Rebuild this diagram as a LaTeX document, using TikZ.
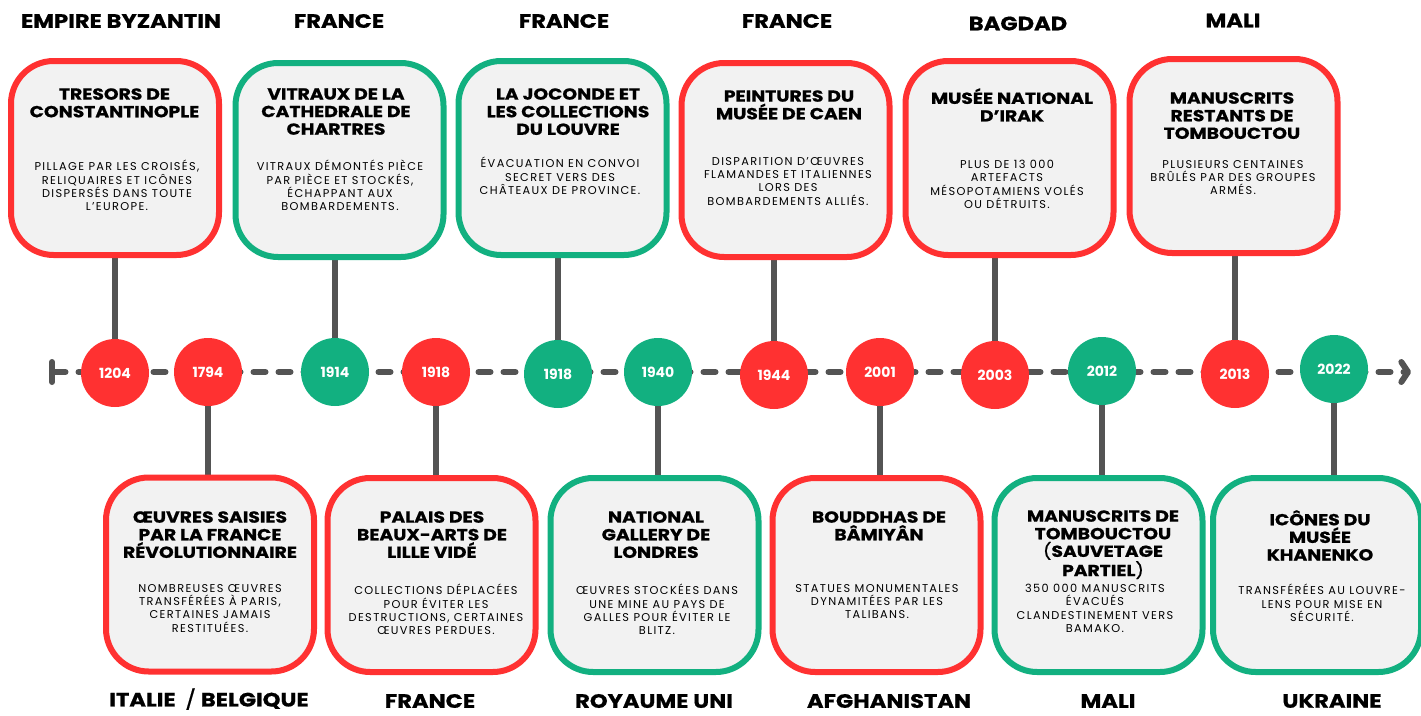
\documentclass[tikz,border=0pt]{standalone}
\usepackage{fontspec}
\setmainfont{Poppins}
\newfontfamily\descfont[LetterSpace=12]{Poppins}
\newfontfamily\headfont[FakeStretch=1.17,FakeBold=0.8]{Poppins}
\usepackage{tikz}
\usetikzlibrary{arrows.meta,positioning,backgrounds}

\definecolor{tlred}{RGB}{255,49,49}
\definecolor{tlgreen}{RGB}{18,176,128}
\definecolor{tlgray}{RGB}{84,84,84}
\definecolor{tlfill}{RGB}{242,242,242}

\begin{document}
\begin{tikzpicture}[x=0.75pt,y=0.75pt,yscale=-1,xscale=1,
  card/.style={rectangle, rounded corners=32pt, minimum width=156pt, minimum height=145.5pt, line width=4.5pt, fill=tlfill, inner sep=0pt},
  redcard/.style={card, draw=tlred},
  greencard/.style={card, draw=tlgreen},
  ttl/.style={anchor=north, align=center, inner sep=0pt, font=\headfont\bfseries\fontsize{12}{13.2}\selectfont},
  dsc/.style={anchor=north, align=center, inner sep=0pt, font=\descfont\fontsize{8.5}{10}\selectfont},
  place/.style={inner sep=0pt, font=\headfont\bfseries\fontsize{14.5}{15}\selectfont},
  year/.style={circle, minimum size=51pt, inner sep=0pt, text=white, font=\bfseries\fontsize{10.5}{10.5}\selectfont},
  redyear/.style={year, fill=tlred},
  greenyear/.style={year, fill=tlgreen},
  stem/.style={draw=tlgray, line width=4.5pt}
]
        \path [use as bounding box] (0,0) rectangle (1421,715);

        %Straight Lines: timeline
        \coordinate (tlstart) at (49,372);
        \coordinate (tlend) at (1411,372);
        \draw [tlgray, line width=4.5pt, line cap=round, dash pattern=on 9pt off 9.75pt, {Bar[width=15pt,round]}-{Straight Barb[length=5pt,width=15pt,round]}] (tlstart) -- (tlend) ;

        %Shape: Circle (years)
        \node [redyear] (yr1) at (115,373) {1204};
        \node [redyear] (yr2) at (208,372) {1794};
        \node [greenyear] (yr3) at (335,372) {1914};
        \node [redyear] (yr4) at (436,372) {1918};
        \node [greenyear] (yr5) at (558,374) {1918};
        \node [greenyear] (yr6) at (658,372) {1940};
        \node [redyear] (yr7) at (774,375) {1944};
        \node [redyear] (yr8) at (880,372) {2001};
        \node [redyear] (yr9) at (995,375) {2003};
        \node [greenyear] (yr10) at (1102,371) {2012};
        \node [redyear] (yr11) at (1235,374) {2013};
        \node [greenyear] (yr12) at (1334,369) {2022};

        %Shape: Rounded Rect (top row)
        \node [redcard] (card1) at (115,158) {};
        \node [greencard] (card2) at (339.5,160) {};
        \node [greencard] (card3) at (562.5,158) {};
        \node [redcard] (card4) at (785.5,160) {};
        \node [redcard] (card5) at (1009.5,158) {};
        \node [redcard] (card6) at (1233.5,156) {};
        %Shape: Rounded Rect (bottom row)
        \node [redcard] (card7) at (210,574.5) {};
        \node [redcard] (card8) at (431.5,575) {};
        \node [greencard] (card9) at (654.5,575) {};
        \node [redcard] (card10) at (876.5,575) {};
        \node [greencard] (card11) at (1098.5,575) {};
        \node [greencard] (card12) at (1317,575) {};

        %Straight Lines: stems
        \begin{scope}[on background layer]
        \draw [stem] (yr1.north) -- (yr1.north |- card1.south) ;
        \draw [stem] (yr3.north) -- (yr3.north |- card2.south) ;
        \draw [stem] (yr5.north) -- (yr5.north |- card3.south) ;
        \draw [stem] (yr7.north) -- (yr7.north |- card4.south) ;
        \draw [stem] (yr9.north) -- (yr9.north |- card5.south) ;
        \draw [stem] (yr11.north) -- (yr11.north |- card6.south) ;
        \draw [stem] (yr2.south) -- (yr2.south |- card7.north) ;
        \draw [stem] (yr4.south) -- (yr4.south |- card8.north) ;
        \draw [stem] (yr6.south) -- (yr6.south |- card9.north) ;
        \draw [stem] (yr8.south) -- (yr8.south |- card10.north) ;
        \draw [stem] (yr10.south) -- (yr10.south |- card11.north) ;
        \draw [stem] (yr12.south) -- (yr12.south |- card12.north) ;
        \end{scope}

        % Text Node
        \node [place] (pl1) at (121,21) {EMPIRE BYZANTIN};
        \node [place] (pl2) at (339,21) {FRANCE};
        \node [place] (pl3) at (564,21) {FRANCE};
        \node [place] (pl4) at (787,21) {FRANCE};
        \node [place] (pl5) at (1018,23.5) {BAGDAD};
        \node [place] (pl6) at (1233,20.5) {MALI};
        \node [place] (pl7) at (209,699) {ITALIE \ {\mdseries/} BELGIQUE};
        \node [place] (pl8) at (430,701) {FRANCE};
        \node [place] (pl9) at (654,701) {ROYAUME UNI};
        \node [place] (pl10) at (889,701) {AFGHANISTAN};
        \node [place] (pl11) at (1108,701) {MALI};
        \node [place] (pl12) at (1332,701) {UKRAINE};

        % Text Node
        \node [ttl] (ttl1) at (114.5,88) {TRESORS DE\\CONSTANTINOPLE};
        \node [dsc] (dsc1) at (117,160) {PILLAGE PAR LES CROISÉS,\\RELIQUAIRES ET ICÔNES\\DISPERSÉS DANS TOUTE\\L’EUROPE.};
        % Text Node
        \node [ttl] (ttl2) at (336,88) {VITRAUX DE LA\\CATHEDRALE DE\\CHARTRES};
        \node [dsc] (dsc2) at (340,160) {VITRAUX DÉMONTÉS PIÈCE\\PAR PIÈCE ET STOCKÉS,\\ÉCHAPPANT AUX\\BOMBARDEMENTS.};
        % Text Node
        \node [ttl] (ttl3) at (568,88) {LA JOCONDE ET\\LES COLLECTIONS\\DU LOUVRE};
        \node [dsc] (dsc3) at (560,157) {ÉVACUATION EN CONVOI\\SECRET VERS DES\\CHÂTEAUX DE PROVINCE.};
        % Text Node
        \node [ttl] (ttl4) at (789,90) {PEINTURES DU\\MUSÉE DE CAEN};
        \node [dsc] (dsc4) at (788,157) {DISPARITION D’ŒUVRES\\FLAMANDES ET ITALIENNES\\LORS DES\\BOMBARDEMENTS ALLIÉS.};
        % Text Node
        \node [ttl] (ttl5) at (1012,88) {MUSÉE NATIONAL\\D’IRAK};
        \node [dsc] (dsc5) at (1007,160) {PLUS DE 13 000\\ARTEFACTS\\MÉSOPOTAMIENS VOLÉS\\OU DÉTRUITS.};
        % Text Node
        \node [ttl] (ttl6) at (1232,92) {MANUSCRITS\\RESTANTS DE\\TOMBOUCTOU};
        \node [dsc] (dsc6) at (1233,160) {PLUSIEURS CENTAINES\\BRÛLÉS PAR DES GROUPES\\ARMÉS.};
        % Text Node
        \node [ttl] (ttl7) at (210,511) {ŒUVRES SAISIES\\PAR LA FRANCE\\RÉVOLUTIONNAIRE};
        \node [dsc] (dsc7) at (210,584) {NOMBREUSES ŒUVRES\\TRANSFÉRÉES À PARIS,\\CERTAINES JAMAIS\\RESTITUÉES.};
        % Text Node
        \node [ttl] (ttl8) at (432,511) {PALAIS DES\\BEAUX-ARTS DE\\LILLE VIDÉ};
        \node [dsc] (dsc8) at (436,584) {COLLECTIONS DÉPLACÉES\\POUR ÉVITER LES\\DESTRUCTIONS, CERTAINES\\ŒUVRES PERDUES.};
        % Text Node
        \node [ttl] (ttl9) at (656,511) {NATIONAL\\GALLERY DE\\LONDRES};
        \node [dsc] (dsc9) at (657,584) {ŒUVRES STOCKÉES DANS\\UNE MINE AU PAYS DE\\GALLES POUR ÉVITER LE\\BLITZ.};
        % Text Node
        \node [ttl] (ttl10) at (879,511) {BOUDDHAS DE\\BÂMIYÂN};
        \node [dsc] (dsc10) at (877,584) {STATUES MONUMENTALES\\DYNAMITÉES PAR LES\\TALIBANS.};
        % Text Node
        \node [ttl] (ttl11) at (1103,510) {MANUSCRITS DE\\TOMBOUCTOU\\{\mdseries(}SAUVETAGE\\PARTIEL{\mdseries)}};
        \node [dsc] (dsc11) at (1095,584) {350 000 MANUSCRITS\\ÉVACUÉS\\CLANDESTINEMENT VERS\\BAMAKO.};
        % Text Node
        \node [ttl] (ttl12) at (1320,510) {ICÔNES DU\\MUSÉE\\KHANENKO};
        \node [dsc] (dsc12) at (1322,584) {TRANSFÉRÉES AU LOUVRE-\\LENS POUR MISE EN\\SÉCURITÉ.};

\end{tikzpicture}
\end{document}
